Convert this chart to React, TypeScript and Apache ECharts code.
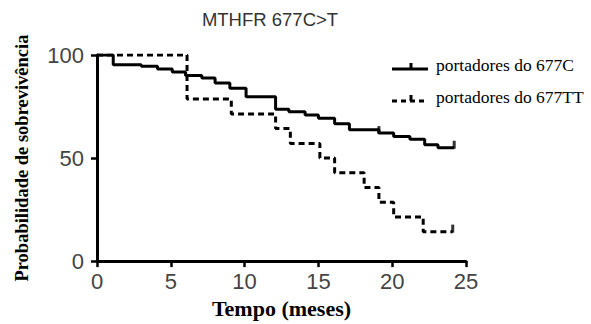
import React, { useEffect, useRef } from "react";
import * as echarts from "echarts";

const titleText = "MTHFR 677C>T";
const xName = "Tempo (meses)";
const yName = "Probabilidade de sobrevivência";
const seriesNames = ["portadores do 677C", "portadores do 677TT"];

// Kaplan-Meier steps: [month, survival %] (value holds from that month on)
const curveC: [number, number][] = [
  [0, 100], [1.1, 95.3], [3, 94.5], [4.1, 93.2], [5.1, 91.8], [6, 90],
  [7.1, 88.8], [8, 86.4], [9, 83.9], [10.1, 79.8], [12.1, 73.7], [13, 72.5],
  [14.1, 70.9], [15, 69.3], [16.1, 66.6], [17.1, 63.7], [19.1, 62.1],
  [20.1, 60.4], [21.2, 59.1], [22.2, 56.4], [23.1, 55], [24.2, 55],
];
const curveTT: [number, number][] = [
  [0, 100], [6.1, 78.6], [9.1, 71.4], [12.1, 64.3], [13.1, 57.1], [15.1, 50],
  [16.1, 42.9], [18.1, 35.7], [19.1, 28.6], [20.1, 21.4], [22.1, 14.3], [24.1, 14.3],
];
const censorC: [number, number][] = [[19.1, 62.1], [24.2, 55]];
const censorTT: [number, number][] = [[24.1, 14.3]];

export default function App() {
  const ref = useRef<HTMLDivElement>(null);
  useEffect(() => {
    if (!ref.current) return;
    const chart = echarts.init(ref.current, null, { renderer: "svg" });
    const sans = "Liberation Sans";
    const serif = "Liberation Serif";
    const lw = 3;
    chart.setOption({
      animation: false,
      grid: { left: 97, right: 125, top: 55, bottom: 62.5, containLabel: false },
      xAxis: {
        type: "value",
        min: 0,
        max: 25,
        interval: 5,
        name: xName,
        nameLocation: "middle",
        nameGap: 35,
        nameTextStyle: { fontFamily: serif, fontWeight: "bold", fontSize: 22, color: "#000" },
        axisLine: { show: true, onZero: false, lineStyle: { color: "#000", width: lw } },
        axisTick: { show: true, length: 6, lineStyle: { color: "#000", width: 2.5 } },
        axisLabel: { margin: 9, fontFamily: sans, fontSize: 22, color: "#444" },
        splitLine: { show: false },
      },
      yAxis: {
        type: "value",
        min: 0,
        max: 100,
        interval: 50,
        name: yName,
        nameLocation: "middle",
        nameGap: 66,
        nameTextStyle: { fontFamily: serif, fontWeight: "bold", fontSize: 18.5, color: "#000" },
        axisLine: { show: true, lineStyle: { color: "#000", width: lw } },
        axisTick: { show: true, length: 6, lineStyle: { color: "#000", width: 2.5 } },
        axisLabel: { margin: 13, fontFamily: sans, fontSize: 22, color: "#444" },
        splitLine: { show: false },
      },
      series: [
        {
          name: seriesNames[1],
          type: "line",
          step: "end",
          data: curveTT,
          showSymbol: false,
          lineStyle: { color: "#000", width: lw, type: [6, 4] },
          z: 2,
        },
        {
          name: seriesNames[0],
          type: "line",
          step: "end",
          data: curveC,
          showSymbol: false,
          lineStyle: { color: "#000", width: lw, type: "solid" },
          z: 3,
        },
        {
          type: "scatter",
          data: censorC.concat(censorTT),
          symbol: "rect",
          symbolSize: [3, 8],
          symbolOffset: [0, -3],
          itemStyle: { color: "#000" },
          z: 4,
        },
      ],
      graphic: [
        {
          type: "text",
          x: 270,
          y: 19,
          style: {
            text: titleText,
            fontFamily: sans,
            fontSize: 18.5,
            fill: "#333",
            align: "center",
            verticalAlign: "middle",
          },
        },
        { type: "line", shape: { x1: 392, y1: 69, x2: 428, y2: 69 }, style: { stroke: "#000", lineWidth: 3 } },
        { type: "line", shape: { x1: 411, y1: 63, x2: 411, y2: 69 }, style: { stroke: "#000", lineWidth: 3 } },
        {
          type: "text",
          x: 436,
          y: 65,
          style: { text: seriesNames[0], fontFamily: serif, fontSize: 17.5, fill: "#000", verticalAlign: "middle" },
        },
        { type: "line", shape: { x1: 392, y1: 101, x2: 428, y2: 101 }, style: { stroke: "#000", lineWidth: 3, lineDash: [5, 4] } },
        { type: "line", shape: { x1: 411, y1: 95, x2: 411, y2: 101 }, style: { stroke: "#000", lineWidth: 3 } },
        {
          type: "text",
          x: 436,
          y: 97,
          style: { text: seriesNames[1], fontFamily: serif, fontSize: 17.5, fill: "#000", verticalAlign: "middle" },
        },
      ],
    });
    return () => chart.dispose();
  }, []);
  return (
    <div
      ref={ref}
      style={{ position: "absolute", left: 0, top: 0, width: 591, height: 324, background: "#fff" }}
    />
  );
}
